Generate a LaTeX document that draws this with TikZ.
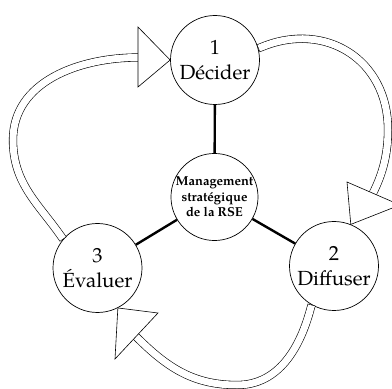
\documentclass[tikz,border=0pt]{standalone}
\usepackage{fontspec}
\setmainfont{TeX Gyre Pagella}
\usetikzlibrary{calc}
\begin{document}
\begin{tikzpicture}[x=1bp,y=1bp,
  stage/.style={circle, draw, line width=0.7bp, fill=white, minimum size=89bp, inner sep=0pt, align=center, font=\fontsize{20.5}{25}\selectfont},
  hub/.style={circle, draw, line width=0.7bp, fill=white, minimum size=87bp, inner sep=0pt, align=center, font=\bfseries\fontsize{13}{15.5}\selectfont},
  spoke/.style={line width=2.4bp},
  shaft/.style={draw, line width=0.6bp, double, double distance=7bp, line cap=rect},
  head/.style={draw, line width=0.6bp, fill=white, line join=miter}]
\useasboundingbox (0,0) rectangle (392,389);
\clip (0,0) rectangle (392,389);

\node[hub] (c) at (214.5,192) {Management\\stratégique\\de la RSE};
\node[stage] (n1) at (215,329) {1\\Décider};
\node[stage] (n2) at (334,123) {2\\Diffuser};
\node[stage] (n3) at (97.5,121) {3\\Évaluer};

\draw[spoke] (c) -- (n1);
\draw[spoke] (c) -- (n2);
\draw[spoke] (c) -- (n3);

% arrow 3 -> 1
\coordinate (a1) at (138,331.5);
\coordinate (t1a) at (138,362);
\coordinate (t1b) at (138,302);
\draw[shaft, shorten <=4bp] (n3.140) to[out=125,in=270] (13,249) to[out=90,in=180] (a1);
\draw[head] (t1a) -- (n1.west) -- (t1b) -- cycle;

% arrow 1 -> 2
\coordinate (a2) at (373,196);
\coordinate (t2a) at (347,207);
\coordinate (t2b) at (400,184);
\draw[shaft, shorten <=4bp] (n1.15) .. controls (325,368) and (388,330) .. (388,259) .. controls (388,230) and (380,210) .. (a2);
\draw[head] (t2a) -- (n2.68) -- (t2b) -- cycle;

% arrow 2 -> 3
\coordinate (a3) at (136,52.5);
\coordinate (t3a) at (158,76);
\coordinate (t3b) at (115,30);
\draw[shaft, shorten <=4bp] (n2.240) to[out=255,in=0] (237,4) to[out=180,in=-45] (a3);
\draw[head] (t3a) -- (n3.297) -- (t3b) -- cycle;
\end{tikzpicture}
\end{document}
